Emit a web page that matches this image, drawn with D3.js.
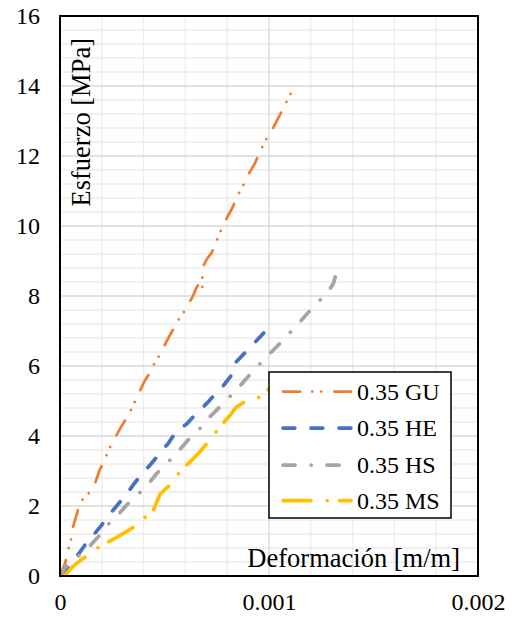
<!DOCTYPE html>
<html>
<head>
<meta charset="utf-8">
<script src="https://cdn.jsdelivr.net/npm/d3@7"></script>
<style>
  html, body { margin: 0; padding: 0; background: #fff; }
  svg { display: block; }
  text { font-family: "Liberation Serif", "Times New Roman", serif; fill: #000; }
</style>
</head>
<body>
<svg id="chart" width="517" height="618"></svg>
<script>
// Stress–strain curves, [strain (m/m), stress (MPa)]
const seriesNames = ["0.35 GU", "0.35 HE", "0.35 HS", "0.35 MS"];

const curveGU = [
  [0, 0], [0.000024, 0.36], [0.00004, 0.76], [0.000053, 1.05], [0.000059, 1.34],
  [0.000084, 1.84], [0.000092, 2.1], [0.000128, 2.29], [0.000164, 2.58], [0.000191, 3.05],
  [0.000212, 3.29], [0.000231, 3.58], [0.000255, 3.86], [0.000295, 4.29], [0.000322, 4.55],
  [0.000346, 4.82], [0.000367, 5.09], [0.000403, 5.55], [0.00043, 5.81], [0.000453, 6.08],
  [0.000478, 6.33], [0.000515, 6.76], [0.000542, 7.05], [0.000563, 7.29], [0.00059, 7.52],
  [0.000633, 7.96], [0.000654, 8.25], [0.00067, 8.41], [0.000681, 8.23], [0.000681, 8.8],
  [0.000702, 9.05], [0.000726, 9.24], [0.000757, 9.69], [0.000778, 9.98], [0.0008, 10.25],
  [0.000823, 10.5], [0.000858, 10.96], [0.000882, 11.22], [0.000903, 11.49], [0.00093, 11.76],
  [0.000965, 12.22], [0.000987, 12.48], [0.001013, 12.73], [0.001037, 13.0], [0.001072, 13.41],
  [0.00112, 13.98]
];

const curveHE = [
  [0, 0], [0.00004, 0.2], [0.000085, 0.6], [0.00012, 0.89], [0.00016, 1.17],
  [0.0002, 1.46], [0.000239, 1.77], [0.000279, 2.06], [0.000319, 2.34], [0.000356, 2.65],
  [0.000394, 2.93], [0.000435, 3.2], [0.000478, 3.51], [0.000518, 3.79], [0.000555, 4.12],
  [0.000606, 4.34], [0.000646, 4.6], [0.000702, 4.93], [0.000734, 5.14], [0.000778, 5.41],
  [0.000821, 5.74], [0.000826, 6.0], [0.000837, 6.08], [0.000882, 6.36], [0.000925, 6.63],
  [0.00097, 6.91], [0.001008, 7.2]
];

const curveHS = [
  [0, 0], [0.000032, 0.31], [0.000096, 0.6], [0.000148, 0.89], [0.000191, 1.17],
  [0.000236, 1.51], [0.000287, 1.81], [0.000327, 2.08], [0.000383, 2.39], [0.000431, 2.69],
  [0.000463, 2.93], [0.000523, 3.29], [0.000571, 3.6], [0.000614, 3.89], [0.000667, 4.19],
  [0.00071, 4.51], [0.000753, 4.76], [0.000805, 5.08], [0.000853, 5.37], [0.000893, 5.65],
  [0.000944, 5.98], [0.000989, 6.27], [0.001037, 6.55], [0.001088, 6.88], [0.001136, 7.17],
  [0.001177, 7.46], [0.001228, 7.79], [0.001279, 8.09], [0.001308, 8.36], [0.001329, 8.79]
];

const curveMS = [
  [0.00002, 0], [0.000058, 0.25], [0.000096, 0.44], [0.000135, 0.6], [0.000175, 0.79],
  [0.000255, 1.05], [0.000303, 1.22], [0.000356, 1.41], [0.00038, 1.58], [0.0004, 1.66],
  [0.00044, 1.77], [0.00045, 1.93], [0.000478, 2.33], [0.000534, 2.65], [0.000587, 3.08],
  [0.000619, 3.24], [0.00067, 3.55], [0.000718, 3.9], [0.000753, 4.17], [0.000794, 4.46],
  [0.000815, 4.6], [0.000841, 4.81], [0.000896, 5.03], [0.000916, 5.05], [0.000947, 5.09],
  [0.000974, 5.17], [0.000997, 5.33]
];

const xTickValues = [0, 0.001, 0.002];
const xTickLabels = ["0", "0.001", "0.002"];
const yTickValues = [0, 2, 4, 6, 8, 10, 12, 14, 16];

// Line appearance per series (round caps add half a width at each end)
const seriesStyle = [
  { color: "#ED7D31", width: 2.75, dash: "17 12.2 0.01 9 0.01 13.1" },
  { color: "#4472C4", width: 3.75, dash: "11.8 16.2" },
  { color: "#A5A5A5", width: 3.75, dash: "12 16.2 0.01 15.8" },
  { color: "#FFC000", width: 3.75, dash: "28 16.2 0.01 12.4" }
];
const seriesData = [curveGU, curveHE, curveHS, curveMS];

const svg = d3.select("#chart");
const plot = { left: 60, right: 478, top: 16, bottom: 576 };

const x = d3.scaleLinear().domain([0, 0.002]).range([plot.left, plot.right]);
const y = d3.scaleLinear().domain([0, 16]).range([plot.bottom, plot.top]);

// Gridlines: minor first, then major
const grid = svg.append("g");
grid.selectAll("line.xminor")
  .data(d3.range(1, 10).map(i => i * 0.0002).filter(v => Math.abs(v - 0.001) > 1e-9))
  .join("line")
  .attr("x1", d => x(d)).attr("x2", d => x(d))
  .attr("y1", plot.top).attr("y2", plot.bottom)
  .attr("stroke", "#ededed").attr("stroke-width", 1.3);
grid.selectAll("line.yminor")
  .data(d3.range(1, 40).map(i => i * 0.4).filter(v => Math.abs(v / 2 - Math.round(v / 2)) > 1e-6))
  .join("line")
  .attr("x1", plot.left).attr("x2", plot.right)
  .attr("y1", d => y(d)).attr("y2", d => y(d))
  .attr("stroke", "#ededed").attr("stroke-width", 1.3);
grid.selectAll("line.ymajor")
  .data(yTickValues.slice(1, -1))
  .join("line")
  .attr("x1", plot.left).attr("x2", plot.right)
  .attr("y1", d => y(d)).attr("y2", d => y(d))
  .attr("stroke", "#d9d9d9").attr("stroke-width", 1.3);
grid.selectAll("line.xmajor")
  .data([0.001])
  .join("line")
  .attr("x1", d => x(d)).attr("x2", d => x(d))
  .attr("y1", plot.top).attr("y2", plot.bottom)
  .attr("stroke", "#d9d9d9").attr("stroke-width", 1.3);

// Axis titles inside the plot area
svg.append("text")
  .attr("transform", `translate(90,38) rotate(-90)`)
  .attr("text-anchor", "end")
  .style("font-size", "26.5px")
  .text("Esfuerzo [MPa]");
svg.append("text")
  .attr("x", 460).attr("y", 567)
  .attr("text-anchor", "end")
  .style("font-size", "26.5px")
  .text("Deformación [m/m]");

// Curves
svg.append("clipPath").attr("id", "plotClip")
  .append("rect")
  .attr("x", plot.left).attr("y", plot.top)
  .attr("width", plot.right - plot.left).attr("height", plot.bottom - plot.top);

const line = d3.line().x(d => x(d[0])).y(d => y(d[1]));
svg.append("g").attr("clip-path", "url(#plotClip)")
  .selectAll("path")
  .data(seriesData)
  .join("path")
  .attr("d", d => line(d))
  .attr("fill", "none")
  .attr("stroke", (d, i) => seriesStyle[i].color)
  .attr("stroke-width", (d, i) => seriesStyle[i].width)
  .attr("stroke-dasharray", (d, i) => seriesStyle[i].dash)
  .attr("stroke-linecap", "round")
  .attr("stroke-linejoin", "round");

// Plot border
svg.append("rect")
  .attr("x", plot.left).attr("y", plot.top)
  .attr("width", plot.right - plot.left).attr("height", plot.bottom - plot.top)
  .attr("fill", "none").attr("stroke", "#000").attr("stroke-width", 2);

// Axes
const yAxis = svg.append("g")
  .attr("transform", `translate(${plot.left},0)`)
  .call(d3.axisLeft(y).tickValues(yTickValues).tickSize(0).tickPadding(20).tickFormat(d3.format("d")));
yAxis.select(".domain").remove();
yAxis.selectAll("text")
  .style("font-size", "24px")
  .style("font-family", "'Liberation Serif', 'Times New Roman', serif")
  .attr("dy", "0.33em");

const xAxis = svg.append("g")
  .attr("transform", `translate(0,${plot.bottom})`)
  .call(d3.axisBottom(x).tickValues(xTickValues).tickSize(0)
    .tickFormat((d, i) => xTickLabels[i]));
xAxis.select(".domain").remove();
xAxis.selectAll("text")
  .style("font-size", "24px")
  .style("font-family", "'Liberation Serif', 'Times New Roman', serif")
  .attr("y", 34).attr("dy", 0);

// Legend
const legend = svg.append("g").attr("transform", "translate(269,372)");
legend.append("rect")
  .attr("width", 182).attr("height", 146)
  .attr("fill", "#fff").attr("stroke", "#000").attr("stroke-width", 1.5);
const rowY = [19.5, 56, 93, 128.5];
const items = legend.selectAll("g.item")
  .data(seriesNames)
  .join("g")
  .attr("transform", (d, i) => `translate(0,${rowY[i]})`);
items.append("line")
  .attr("x1", 14).attr("x2", 82).attr("y1", 0).attr("y2", 0)
  .attr("stroke", (d, i) => seriesStyle[i].color)
  .attr("stroke-width", (d, i) => seriesStyle[i].width)
  .attr("stroke-dasharray", (d, i) => seriesStyle[i].dash)
  .attr("stroke-linecap", "round");
items.append("text")
  .attr("x", 88).attr("y", 8)
  .style("font-size", "24px")
  .text(d => d);
</script>
</body>
</html>
